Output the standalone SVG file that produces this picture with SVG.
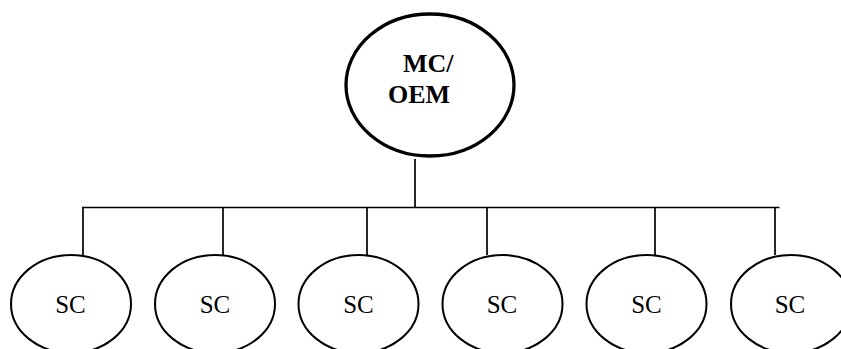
<svg xmlns="http://www.w3.org/2000/svg" width="841" height="349" viewBox="0 0 841 349">
  <style>
    .bg { fill: #ffffff; }
    .wire { fill: none; stroke: #000000; stroke-width: 1.7; }
    .root { fill: #ffffff; stroke: #000000; stroke-width: 3.3; }
    .leaf { fill: #ffffff; stroke: #000000; stroke-width: 2; }
    .root-label { font-family: "Liberation Serif", "Times New Roman", serif; font-size: 26px; font-weight: bold; fill: #000000; }
    .leaf-label { font-family: "Liberation Serif", "Times New Roman", serif; font-size: 25px; fill: #000000; text-anchor: middle; }
  </style>
  <rect class="bg" x="0" y="0" width="841" height="349"/>

  <!-- connectors: trunk, bus bar and drops -->
  <g id="connectors">
    <line class="wire" x1="415" y1="159" x2="415" y2="207.5"/>
    <line class="wire" x1="82" y1="207.5" x2="779.5" y2="207.5"/>
    <line class="wire" x1="83" y1="207.5" x2="83" y2="255"/>
    <line class="wire" x1="223" y1="207.5" x2="223" y2="255"/>
    <line class="wire" x1="367" y1="207.5" x2="367" y2="255"/>
    <line class="wire" x1="487" y1="207.5" x2="487" y2="255"/>
    <line class="wire" x1="655" y1="207.5" x2="655" y2="255"/>
    <line class="wire" x1="775" y1="207.5" x2="775" y2="255"/>
  </g>

  <!-- root node -->
  <g id="node-mc-oem">
    <ellipse class="root" cx="430" cy="85" rx="84" ry="71"/>
    <text class="root-label" x="403" y="72">MC/</text>
    <text class="root-label" x="388" y="103">OEM</text>
  </g>

  <!-- leaf nodes -->
  <g id="node-sc-1">
    <ellipse class="leaf" cx="71" cy="304" rx="60" ry="49"/>
    <text class="leaf-label" x="70.5" y="313">SC</text>
  </g>
  <g id="node-sc-2">
    <ellipse class="leaf" cx="215" cy="304" rx="60" ry="49"/>
    <text class="leaf-label" x="215" y="313">SC</text>
  </g>
  <g id="node-sc-3">
    <ellipse class="leaf" cx="358.5" cy="304" rx="60" ry="49"/>
    <text class="leaf-label" x="358.5" y="313">SC</text>
  </g>
  <g id="node-sc-4">
    <ellipse class="leaf" cx="502.5" cy="304" rx="60" ry="49"/>
    <text class="leaf-label" x="502" y="313">SC</text>
  </g>
  <g id="node-sc-5">
    <ellipse class="leaf" cx="646.5" cy="304" rx="60" ry="49"/>
    <text class="leaf-label" x="646.5" y="313">SC</text>
  </g>
  <g id="node-sc-6">
    <ellipse class="leaf" cx="791" cy="304" rx="60" ry="49"/>
    <text class="leaf-label" x="790" y="313">SC</text>
  </g>
</svg>
